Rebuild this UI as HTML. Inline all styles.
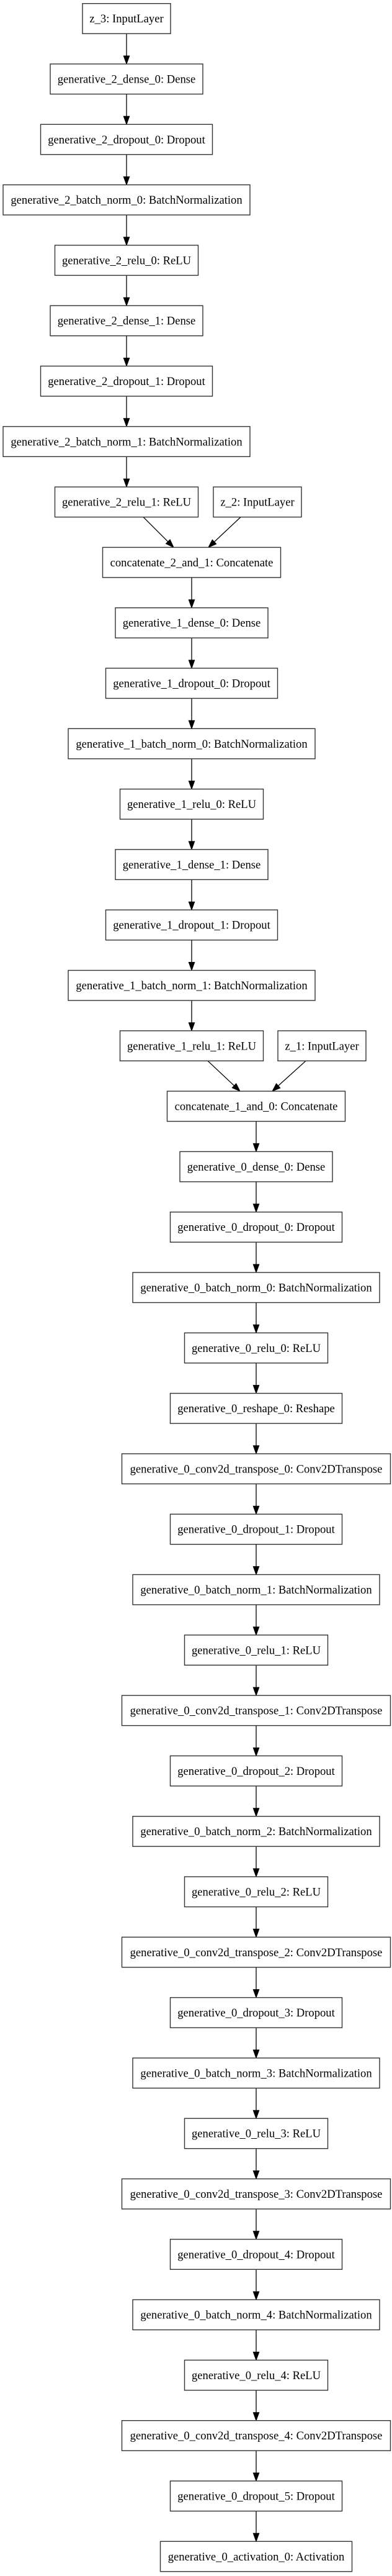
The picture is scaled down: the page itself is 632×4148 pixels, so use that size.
<!DOCTYPE html>
<html><head><meta charset="utf-8"><style>
html,body{margin:0;padding:0;background:#fff;}
svg{display:block;}
text{font-family:"Liberation Serif",serif;font-size:18.6px;fill:#000;text-anchor:middle;}
rect{fill:#fff;stroke:#333;stroke-width:1.4;}
line{stroke:#000;stroke-width:1.3;}
polygon{fill:#000;stroke:#000;stroke-width:1;}
</style></head><body>
<svg width="632" height="4148" viewBox="0 0 632 4148" xmlns="http://www.w3.org/2000/svg">
<defs>
<g id="a"><line x1="0" y1="0" x2="0" y2="36"/><polygon points="0,48.8 -4.7,35.8 4.7,35.8"/></g>
</defs>
<!-- straight arrows -->
<use href="#a" x="204" y="54.2"/><use href="#a" x="204" y="151.5"/><use href="#a" x="204" y="248.8"/><use href="#a" x="204" y="346.1"/><use href="#a" x="204" y="443.4"/><use href="#a" x="204" y="540.7"/><use href="#a" x="204" y="638"/><use href="#a" x="204" y="735.3"/>
<use href="#a" x="309" y="929.9"/><use href="#a" x="309" y="1027.2"/><use href="#a" x="309" y="1124.5"/><use href="#a" x="309" y="1221.8"/><use href="#a" x="309" y="1319.1"/><use href="#a" x="309" y="1416.4"/><use href="#a" x="309" y="1513.7"/><use href="#a" x="309" y="1611"/>
<use href="#a" x="413" y="1805.6"/><use href="#a" x="413" y="1902.9"/><use href="#a" x="413" y="2000.2"/><use href="#a" x="413" y="2097.5"/><use href="#a" x="413" y="2194.8"/><use href="#a" x="413" y="2292.1"/><use href="#a" x="413" y="2389.4"/><use href="#a" x="413" y="2486.7"/><use href="#a" x="413" y="2584"/><use href="#a" x="413" y="2681.3"/><use href="#a" x="413" y="2778.6"/><use href="#a" x="413" y="2875.9"/><use href="#a" x="413" y="2973.2"/><use href="#a" x="413" y="3070.5"/><use href="#a" x="413" y="3167.8"/><use href="#a" x="413" y="3265.1"/><use href="#a" x="413" y="3362.4"/><use href="#a" x="413" y="3459.7"/><use href="#a" x="413" y="3557"/><use href="#a" x="413" y="3654.3"/><use href="#a" x="413" y="3751.6"/><use href="#a" x="413" y="3848.9"/><use href="#a" x="413" y="3946.2"/><use href="#a" x="413" y="4043.5"/>
<!-- diagonal arrows -->
<line x1="231" y1="832.6" x2="271" y2="872.4"/><polygon points="280,881.4 267.5,875.5 274.1,868.9"/>
<line x1="388" y1="832.6" x2="345.5" y2="872.5"/><polygon points="336,881.4 348.7,875.9 342.3,869.1"/>
<line x1="335" y1="1708.3" x2="377.5" y2="1748.2"/><polygon points="387,1757.1 374.3,1751.6 380.7,1744.8"/>
<line x1="493" y1="1708.3" x2="448.6" y2="1748.4"/><polygon points="439,1757.1 451.7,1751.9 445.5,1744.9"/>
<!-- nodes -->
<g transform="translate(204,5.7)"><rect x="-71" y="0" width="142" height="48.5"/><text y="30.5">z_3: InputLayer</text></g>
<g transform="translate(204,103)"><rect x="-123" y="0" width="246" height="48.5"/><text y="30.5">generative_2_dense_0: Dense</text></g>
<g transform="translate(204,200.3)"><rect x="-138.5" y="0" width="277" height="48.5"/><text y="30.5">generative_2_dropout_0: Dropout</text></g>
<g transform="translate(204,297.6)"><rect x="-199" y="0" width="398" height="48.5"/><text y="30.5">generative_2_batch_norm_0: BatchNormalization</text></g>
<g transform="translate(204,394.9)"><rect x="-115.5" y="0" width="231" height="48.5"/><text y="30.5">generative_2_relu_0: ReLU</text></g>
<g transform="translate(204,492.2)"><rect x="-123" y="0" width="246" height="48.5"/><text y="30.5">generative_2_dense_1: Dense</text></g>
<g transform="translate(204,589.5)"><rect x="-138.5" y="0" width="277" height="48.5"/><text y="30.5">generative_2_dropout_1: Dropout</text></g>
<g transform="translate(204,686.8)"><rect x="-199" y="0" width="398" height="48.5"/><text y="30.5">generative_2_batch_norm_1: BatchNormalization</text></g>
<g transform="translate(204,784.1)"><rect x="-115.5" y="0" width="231" height="48.5"/><text y="30.5">generative_2_relu_1: ReLU</text></g>
<g transform="translate(415,784.1)"><rect x="-71" y="0" width="142" height="48.5"/><text y="30.5">z_2: InputLayer</text></g>
<g transform="translate(309,881.4)"><rect x="-143.5" y="0" width="287" height="48.5"/><text y="30.5">concatenate_2_and_1: Concatenate</text></g>
<g transform="translate(309,978.7)"><rect x="-123" y="0" width="246" height="48.5"/><text y="30.5">generative_1_dense_0: Dense</text></g>
<g transform="translate(309,1076)"><rect x="-138.5" y="0" width="277" height="48.5"/><text y="30.5">generative_1_dropout_0: Dropout</text></g>
<g transform="translate(309,1173.3)"><rect x="-199" y="0" width="398" height="48.5"/><text y="30.5">generative_1_batch_norm_0: BatchNormalization</text></g>
<g transform="translate(309,1270.6)"><rect x="-115.5" y="0" width="231" height="48.5"/><text y="30.5">generative_1_relu_0: ReLU</text></g>
<g transform="translate(309,1367.9)"><rect x="-123" y="0" width="246" height="48.5"/><text y="30.5">generative_1_dense_1: Dense</text></g>
<g transform="translate(309,1465.2)"><rect x="-138.5" y="0" width="277" height="48.5"/><text y="30.5">generative_1_dropout_1: Dropout</text></g>
<g transform="translate(309,1562.5)"><rect x="-199" y="0" width="398" height="48.5"/><text y="30.5">generative_1_batch_norm_1: BatchNormalization</text></g>
<g transform="translate(309,1659.8)"><rect x="-115.5" y="0" width="231" height="48.5"/><text y="30.5">generative_1_relu_1: ReLU</text></g>
<g transform="translate(519,1659.8)"><rect x="-71" y="0" width="142" height="48.5"/><text y="30.5">z_1: InputLayer</text></g>
<g transform="translate(413,1757.1)"><rect x="-143.5" y="0" width="287" height="48.5"/><text y="30.5">concatenate_1_and_0: Concatenate</text></g>
<g transform="translate(413,1854.4)"><rect x="-123" y="0" width="246" height="48.5"/><text y="30.5">generative_0_dense_0: Dense</text></g>
<g transform="translate(413,1951.7)"><rect x="-138.5" y="0" width="277" height="48.5"/><text y="30.5">generative_0_dropout_0: Dropout</text></g>
<g transform="translate(413,2049)"><rect x="-199" y="0" width="398" height="48.5"/><text y="30.5">generative_0_batch_norm_0: BatchNormalization</text></g>
<g transform="translate(413,2146.3)"><rect x="-115.5" y="0" width="231" height="48.5"/><text y="30.5">generative_0_relu_0: ReLU</text></g>
<g transform="translate(413,2243.6)"><rect x="-138.5" y="0" width="277" height="48.5"/><text y="30.5">generative_0_reshape_0: Reshape</text></g>
<g transform="translate(413,2340.9)"><rect x="-216.5" y="0" width="433" height="48.5"/><text y="30.5">generative_0_conv2d_transpose_0: Conv2DTranspose</text></g>
<g transform="translate(413,2438.2)"><rect x="-138.5" y="0" width="277" height="48.5"/><text y="30.5">generative_0_dropout_1: Dropout</text></g>
<g transform="translate(413,2535.5)"><rect x="-199" y="0" width="398" height="48.5"/><text y="30.5">generative_0_batch_norm_1: BatchNormalization</text></g>
<g transform="translate(413,2632.8)"><rect x="-115.5" y="0" width="231" height="48.5"/><text y="30.5">generative_0_relu_1: ReLU</text></g>
<g transform="translate(413,2730.1)"><rect x="-216.5" y="0" width="433" height="48.5"/><text y="30.5">generative_0_conv2d_transpose_1: Conv2DTranspose</text></g>
<g transform="translate(413,2827.4)"><rect x="-138.5" y="0" width="277" height="48.5"/><text y="30.5">generative_0_dropout_2: Dropout</text></g>
<g transform="translate(413,2924.7)"><rect x="-199" y="0" width="398" height="48.5"/><text y="30.5">generative_0_batch_norm_2: BatchNormalization</text></g>
<g transform="translate(413,3022)"><rect x="-115.5" y="0" width="231" height="48.5"/><text y="30.5">generative_0_relu_2: ReLU</text></g>
<g transform="translate(413,3119.3)"><rect x="-216.5" y="0" width="433" height="48.5"/><text y="30.5">generative_0_conv2d_transpose_2: Conv2DTranspose</text></g>
<g transform="translate(413,3216.6)"><rect x="-138.5" y="0" width="277" height="48.5"/><text y="30.5">generative_0_dropout_3: Dropout</text></g>
<g transform="translate(413,3313.9)"><rect x="-199" y="0" width="398" height="48.5"/><text y="30.5">generative_0_batch_norm_3: BatchNormalization</text></g>
<g transform="translate(413,3411.2)"><rect x="-115.5" y="0" width="231" height="48.5"/><text y="30.5">generative_0_relu_3: ReLU</text></g>
<g transform="translate(413,3508.5)"><rect x="-216.5" y="0" width="433" height="48.5"/><text y="30.5">generative_0_conv2d_transpose_3: Conv2DTranspose</text></g>
<g transform="translate(413,3605.8)"><rect x="-138.5" y="0" width="277" height="48.5"/><text y="30.5">generative_0_dropout_4: Dropout</text></g>
<g transform="translate(413,3703.1)"><rect x="-199" y="0" width="398" height="48.5"/><text y="30.5">generative_0_batch_norm_4: BatchNormalization</text></g>
<g transform="translate(413,3800.4)"><rect x="-115.5" y="0" width="231" height="48.5"/><text y="30.5">generative_0_relu_4: ReLU</text></g>
<g transform="translate(413,3897.7)"><rect x="-216.5" y="0" width="433" height="48.5"/><text y="30.5">generative_0_conv2d_transpose_4: Conv2DTranspose</text></g>
<g transform="translate(413,3995)"><rect x="-138.5" y="0" width="277" height="48.5"/><text y="30.5">generative_0_dropout_5: Dropout</text></g>
<g transform="translate(413,4092.3)"><rect x="-154.5" y="0" width="309" height="48.5"/><text y="30.5">generative_0_activation_0: Activation</text></g>
</svg>
</body></html>
